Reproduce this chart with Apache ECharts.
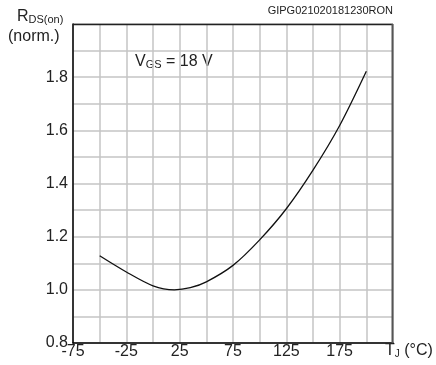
<!DOCTYPE html>
<html>
<head>
<meta charset="utf-8">
<script src="https://cdn.jsdelivr.net/npm/echarts@6/dist/echarts.min.js"></script>
<style>
html,body{margin:0;padding:0;background:#fff;}
#c{width:436px;height:365px;}
</style>
</head>
<body>
<div id="c"></div>
<script>
// Data
var tempC = [-50, -25, 0, 20, 35, 50, 75, 100, 125, 150, 175, 200];
var rdsNorm = [1.128, 1.067, 1.015, 1.000, 1.008, 1.030, 1.092, 1.188, 1.305, 1.450, 1.618, 1.822];
var xTickLabels = [-75, -25, 25, 75, 125, 175];
var yTickLabels = [0.8, 1.0, 1.2, 1.4, 1.6, 1.8];
var codeText = 'GIPG021020181230RON';

var FONT = '"Liberation Sans", Arial, sans-serif';
var chart = echarts.init(document.getElementById('c'), null, {renderer: 'canvas'});

function near(v, arr) {
  for (var i = 0; i < arr.length; i++) if (Math.abs(arr[i] - v) < 1e-6) return true;
  return false;
}

chart.setOption({
  animation: false,
  backgroundColor: '#fff',
  grid: {left: 73, right: 43, top: 24, bottom: 22, show: false},
  xAxis: {
    type: 'value', min: -75, max: 225, interval: 25,
    axisLine: {show: true, onZero: false, lineStyle: {color: '#000', width: 1.5}},
    axisTick: {show: false},
    splitLine: {show: true, lineStyle: {color: '#c4c4c4', width: 1.5}},
    axisLabel: {
      color: '#222', fontFamily: FONT, fontSize: 16, margin: 1,
      formatter: function (v) { return near(v, xTickLabels) ? String(v) : ''; }
    }
  },
  yAxis: {
    type: 'value', min: 0.8, max: 2.0, interval: 0.1,
    axisLine: {show: true, onZero: false, lineStyle: {color: '#000', width: 1.5}},
    axisTick: {show: false},
    splitLine: {show: true, lineStyle: {color: '#c4c4c4', width: 1.5}},
    axisLabel: {
      color: '#222', fontFamily: FONT, fontSize: 16, margin: 5,
      formatter: function (v) { return near(v, yTickLabels) ? v.toFixed(1) : ''; }
    }
  },
  series: [{
    type: 'line',
    data: tempC.map(function (t, i) { return [t, rdsNorm[i]]; }),
    smooth: 0.3,
    showSymbol: false,
    lineStyle: {color: '#111', width: 1.3}
  }],
  graphic: [
    {type: 'line', shape: {x1: 73, y1: 24.5, x2: 393, y2: 24.5}, style: {stroke: '#222', lineWidth: 1.5}, z: 10},
    {type: 'line', shape: {x1: 392.5, y1: 24, x2: 392.5, y2: 343}, style: {stroke: '#555', lineWidth: 2}, z: 10},
    {type: 'text', left: 17, top: 9, style: {
      text: 'R{s|DS(on)}', font: '16px ' + FONT, fill: '#222',
      rich: {s: {fontSize: 11, fontFamily: FONT, fill: '#222', padding: [6, 0, 0, 0]}}
    }},
    {type: 'text', left: 8, top: 29, style: {text: '(norm.)', font: '16px ' + FONT, fill: '#222'}},
    {type: 'text', right: 43, top: 5, style: {text: codeText, font: '11px ' + FONT, fill: '#222'}},
    {type: 'text', left: 135, top: 54, style: {
      text: 'V{s|GS} = 18 V', font: '16px ' + FONT, fill: '#222',
      rich: {s: {fontSize: 11, fontFamily: FONT, fill: '#222', padding: [6, 0, 0, 0]}}
    }},
    {type: 'text', left: 385, top: 343, style: {
      text: 'T{s|J} (°C)', font: '16px ' + FONT, fill: '#222',
      rich: {s: {fontSize: 10, fontFamily: FONT, fill: '#222', padding: [6, 0, 0, 0]}}
    }}
  ]
});
</script>
</body>
</html>
